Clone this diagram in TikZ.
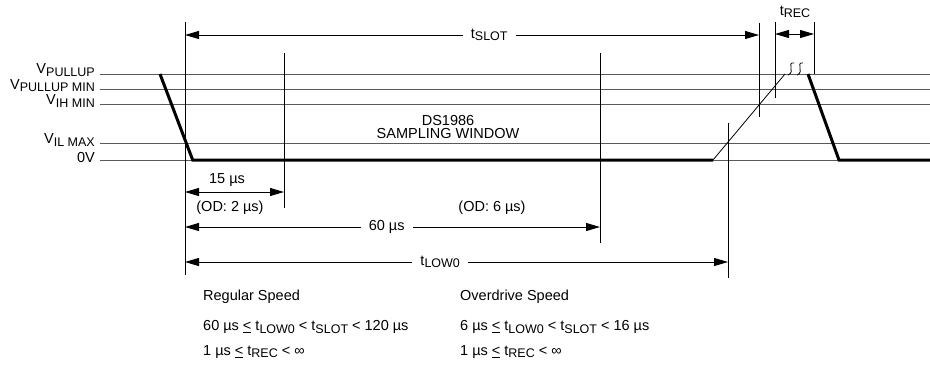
\documentclass[tikz,border=0pt]{standalone}
\usepackage{fontspec}
\setmainfont{Liberation Sans}
\usetikzlibrary{arrows.meta}

\newcommand{\sbs}[1]{\raisebox{-2.5pt}{\fontsize{12.5}{13}\selectfont #1}}

\begin{document}
\begin{tikzpicture}[
  x=1pt,y=-1pt,
  lbl/.style={font=\fontsize{14.5}{15}\selectfont, inner sep=1pt},
  lvlname/.style={lbl,anchor=east,inner sep=0pt},
  lvl/.style={black!65,line width=1pt},
  sig/.style={black,line width=3pt},
  vline/.style={black,line width=0.9pt},
  dim/.style={{Triangle[length=14pt,width=8pt]}-{Triangle[length=14pt,width=8pt]},black,line width=0.9pt},
  gap/.style={lbl,fill=white,inner xsep=8pt}
]
  \useasboundingbox (0,0) rectangle (930,370);

  % voltage levels
  \node[lvlname] (vpu) at (95,70) {V\sbs{PULLUP}};
  \node[lvlname] (vpm) at (95,85.5) {V\sbs{PULLUP MIN}};
  \node[lvlname] (vih) at (95,101) {V\sbs{IH MIN}};
  \node[lvlname] (vil) at (95,140) {V\sbs{IL MAX}};
  \node[lvlname] (v0) at (95,158) {0V};
  \coordinate (epu) at (930,74);
  \coordinate (epm) at (930,89);
  \coordinate (eih) at (930,104);
  \coordinate (eil) at (930,143);
  \coordinate (e0) at (930,160);
  \draw[lvl] (100,74) -- (epu);
  \draw[lvl] (100,89) -- (epm);
  \draw[lvl] (100,104) -- (eih);
  \draw[lvl] (100,143) -- (eil);
  \draw[lvl] (100,160) -- (e0);

  % timing marks
  \coordinate (a1) at (185,22);  \coordinate (a2) at (185,275);
  \coordinate (b1) at (284,53);  \coordinate (b2) at (284,208);
  \coordinate (c1) at (600,53);  \coordinate (c2) at (600,243);
  \coordinate (d1) at (728,123); \coordinate (d2) at (728,278);
  \coordinate (s1) at (759,23);  \coordinate (s2) at (759,117);
  \coordinate (r1) at (775,22);  \coordinate (r2) at (775,98);
  \coordinate (q1) at (814,22);  \coordinate (q2) at (814,74);
  \foreach \p/\q in {a1/a2,b1/b2,c1/c2,d1/d2,s1/s2,r1/r2,q1/q2}
    \draw[vline] (\p) -- (\q);

  % waveform
  \coordinate (w0) at (160,74);
  \coordinate (w1) at (192.7,160);
  \coordinate (w2) at (713,160);
  \coordinate (w3) at (785,74);
  \coordinate (w4) at (808,74);
  \coordinate (w5) at (839,160);
  \draw[sig] (w0) -- (w1) -- (w2);
  \draw[black,line width=0.8pt] (w2) -- (w3);
  \draw[black,line width=0.8pt] (794,63) .. controls (786,62) and (796,72) .. (788,75);
  \draw[black,line width=0.8pt] (803,63) .. controls (795,62) and (805,72) .. (797,75);
  \draw[sig] (w4) -- (w5) -- (e0);

  \node[lbl,align=center,font=\fontsize{14.5}{13}\selectfont] (win) at (448,127) {DS1986\\SAMPLING WINDOW};

  % dimensions
  \draw[dim] (185,35) -- node[gap,pos=0.53] (tslot) {t\sbs{SLOT}} (759,35);
  \node[lbl] (trec) at (795,12) {t\sbs{REC}};
  \draw[dim] (775,34) -- (814,34);
  \node[lbl] (d15) at (227,180) {15 µs};
  \draw[dim] (185,192) -- (284,192);
  \node[lbl] (od2) at (230,208) {(OD: 2 µs)};
  \node[lbl] (od6) at (492,208) {(OD: 6 µs)};
  \draw[dim] (185,227) -- node[gap,pos=0.486] (d60) {60 µs} (600,227);
  \draw[dim] (185,262) -- node[gap,pos=0.47] (tlow) {t\sbs{LOW0}} (728,262);

  % speed tables
  \node[lbl,anchor=west] (rs) at (202,297) {Regular Speed};
  \node[lbl,anchor=west] (rs1) at (202,327) {60 µs \underline{<} t\sbs{LOW0} < t\sbs{SLOT} < 120 µs};
  \node[lbl,anchor=west] (rs2) at (202,352) {1 µs \underline{<} t\sbs{REC} < ∞};
  \node[lbl,anchor=west] (os) at (459,297) {Overdrive Speed};
  \node[lbl,anchor=west] (os1) at (459,327) {6 µs \underline{<} t\sbs{LOW0} < t\sbs{SLOT} < 16 µs};
  \node[lbl,anchor=west] (os2) at (459,352) {1 µs \underline{<} t\sbs{REC} < ∞};
\end{tikzpicture}
\end{document}
